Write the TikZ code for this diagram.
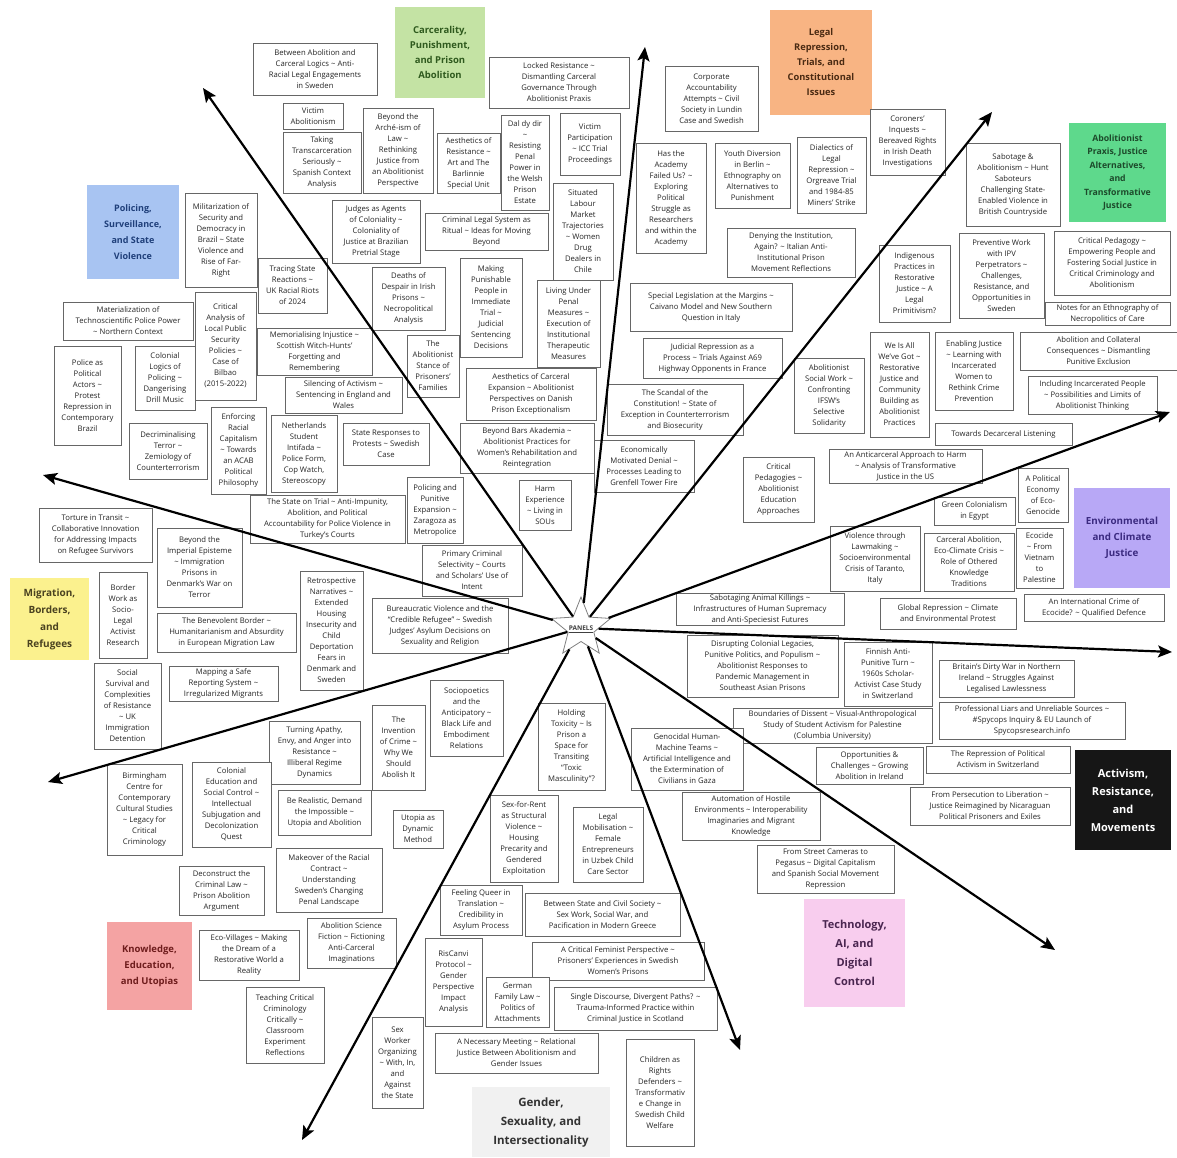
\documentclass[tikz,border=0pt]{standalone}
\usepackage{fontspec}
\setmainfont{Open Sans}
\usetikzlibrary{shapes.geometric,arrows.meta}
\newcommand\tld{\textasciitilde}
\definecolor{cblue}{HTML}{A8C4F2}\definecolor{tblue}{HTML}{1F3F7A}
\definecolor{cgreenl}{HTML}{C4E3A4}\definecolor{tgreenl}{HTML}{2F5A1E}
\definecolor{corange}{HTML}{F8B483}\definecolor{torange}{HTML}{4A2A12}
\definecolor{cgreen}{HTML}{5ED98C}\definecolor{tgreen}{HTML}{1D4A2B}
\definecolor{cpurple}{HTML}{B8A8F6}\definecolor{tpurple}{HTML}{3B2A80}
\definecolor{cyellow}{HTML}{FBF18E}\definecolor{tyellow}{HTML}{4A4220}
\definecolor{cblack}{HTML}{161616}
\definecolor{cpink}{HTML}{F8CDEE}\definecolor{tpink}{HTML}{4A2650}
\definecolor{cred}{HTML}{F4A3A3}\definecolor{tred}{HTML}{6E1C1C}
\definecolor{cgray}{HTML}{F1F1F1}\definecolor{tgray}{HTML}{333333}
\tikzset{
  pbox/.style={draw=black!60, line width=0.7pt, fill=white, text=black!85, align=center,
    inner sep=1pt, font=\fontsize{7.7}{11}\selectfont},
  cat/.style={align=center, inner sep=2pt},
  arr/.style={line width=2.2pt, -{Stealth[length=14pt,width=12pt,inset=3pt]}},
}
\newcommand\bx[6]{\node[pbox,minimum width={(#4-#2)*1pt},minimum height={(#5-#3)*1pt}] (#1) at ({(#2+#4)/2},{(#3+#5)/2}) {#6};}
\newcommand\lab[7]{\node[cat,minimum width={(#4-#2)*1pt},minimum height={(#5-#3)*1pt},#6] (#1) at ({(#2+#4)/2},{(#3+#5)/2}) {#7};}
\begin{document}
\begin{tikzpicture}[x=1pt,y=-1pt]
\useasboundingbox[fill=white] (0,0) rectangle (1177,1157);
% category labels
\lab{Lpol}{87}{185}{179}{279}{fill=cblue,text=tblue,font=\bfseries\fontsize{9}{16}\selectfont}{Policing,\\Surveillance,\\and State\\Violence}
\lab{Lcarc}{395}{7}{485}{98}{fill=cgreenl,text=tgreenl,font=\bfseries\fontsize{9.5}{15}\selectfont}{Carcerality,\\Punishment,\\and Prison\\Abolition}
\lab{Llegal}{770}{10}{872}{115}{fill=corange,text=torange,font=\bfseries\fontsize{9.3}{15}\selectfont}{Legal\\Repression,\\Trials, and\\Constitutional\\Issues}
\lab{Lprax}{1069}{123}{1166}{222}{fill=cgreen,text=tgreen,font=\bfseries\fontsize{8.7}{13.5}\selectfont}{Abolitionist\\Praxis, Justice\\Alternatives,\\and\\Transformative\\Justice}
\lab{Lenv}{1074}{488}{1170}{588}{fill=cpurple,text=tpurple,font=\bfseries\fontsize{9.8}{16}\selectfont}{Environmental\\and Climate\\Justice}
\lab{Lmig}{10}{578}{89}{660}{fill=cyellow,text=tyellow,font=\bfseries\fontsize{10}{17}\selectfont}{Migration,\\Borders,\\and\\Refugees}
\lab{Lact}{1075}{750}{1171}{850}{fill=cblack,text=white,font=\bfseries\fontsize{11}{18}\selectfont}{Activism,\\Resistance,\\and\\Movements}
\lab{Ltech}{804}{899}{905}{1007}{fill=cpink,text=tpink,font=\bfseries\fontsize{11}{19}\selectfont}{Technology,\\AI, and\\Digital\\Control}
\lab{Lknow}{107}{922}{192}{1010}{fill=cred,text=tred,font=\bfseries\fontsize{9.5}{16}\selectfont}{Knowledge,\\Education,\\and Utopias}
\lab{Lgen}{472}{1087}{610}{1157}{fill=cgray,text=tgray,font=\bfseries\fontsize{11.5}{19}\selectfont}{Gender,\\Sexuality, and\\Intersectionality}
% panel boxes
\bx{ba1}{253}{43}{377}{95}{Between Abolition and\\Carceral Logics \tld{} Anti-\\Racial Legal Engagements\\in Sweden}
\bx{victimab}{283}{103}{343}{129}{Victim\\Abolitionism}
\bx{taking}{283}{132}{361}{193}{Taking\\Transcarceration\\Seriously \tld{}\\Spanish Context\\Analysis}
\bx{arche}{363}{108}{433}{193}{Beyond the\\Arché-ism of\\Law \tld{}\\Rethinking\\Justice from\\an Abolitionist\\Perspective}
\bx{aesres}{437}{133}{500}{193}{Aesthetics of\\Resistance \tld{}\\Art and The\\Barlinnie\\Special Unit}
\bx{daldy}{501}{115}{549}{210}{Dal dy dir\\\tld{}\\Resisting\\Penal\\Power in\\the Welsh\\Prison\\Estate}
\bx{locked}{489}{57}{629}{108}{Locked Resistance \tld{}\\Dismantling Carceral\\Governance Through\\Abolitionist Praxis}
\bx{victimpart}{560}{113}{620}{175}{Victim\\Participation\\\tld{} ICC Trial\\Proceedings}
\bx{corporate}{665}{66}{758}{131}{Corporate\\Accountability\\Attempts \tld{} Civil\\Society in Lundin\\Case and Swedish}
\bx{academy}{636}{143}{706}{253}{Has the\\Academy\\Failed Us? \tld{}\\Exploring\\Political\\Struggle as\\Researchers\\and within the\\Academy}
\bx{youth}{715}{143}{790}{208}{Youth Diversion\\in Berlin \tld{}\\Ethnography on\\Alternatives to\\Punishment}
\bx{dialectics}{797}{137}{866}{213}{Dialectics of\\Legal\\Repression \tld{}\\Orgreave Trial\\and 1984-85\\Miners' Strike}
\bx{coroners}{870}{109}{945}{175}{Coroners'\\Inquests \tld{}\\Bereaved Rights\\in Irish Death\\Investigations}
\bx{sabotage}{966}{143}{1060}{226}{Sabotage \&\\Abolitionism \tld{} Hunt\\Saboteurs\\Challenging State-\\Enabled Violence in\\British Countryside}
\bx{militar}{185}{193}{257}{287}{Militarization of\\Security and\\Democracy in\\Brazil \tld{} State\\Violence and\\Rise of Far-\\Right}
\bx{judges}{332}{200}{420}{263}{Judges as Agents\\of Coloniality \tld{}\\Coloniality of\\Justice at Brazilian\\Pretrial Stage}
\bx{crimlegal}{425}{213}{548}{250}{Criminal Legal System as\\Ritual \tld{} Ideas for Moving\\Beyond}
\bx{situated}{553}{183}{613}{280}{Situated\\Labour\\Market\\Trajectories\\\tld{} Women\\Drug\\Dealers in\\Chile}
\bx{denying}{727}{228}{855}{277}{Denying the Institution,\\Again? \tld{} Italian Anti-\\Institutional Prison\\Movement Reflections}
\bx{indigenous}{879}{245}{950}{322}{Indigenous\\Practices in\\Restorative\\Justice \tld{} A\\Legal\\Primitivism?}
\bx{preventive}{959}{233}{1044}{318}{Preventive Work\\with IPV\\Perpetrators \tld{}\\Challenges,\\Resistance, and\\Opportunities in\\Sweden}
\bx{critped}{1054}{231}{1170}{295}{Critical Pedagogy \tld{}\\Empowering People and\\Fostering Social Justice in\\Critical Criminology and\\Abolitionism}
\bx{tracing}{258}{258}{327}{313}{Tracing State\\Reactions \tld{}\\UK Racial Riots\\of 2024}
\bx{deaths}{372}{267}{445}{330}{Deaths of\\Despair in Irish\\Prisons \tld{}\\Necropolitical\\Analysis}
\bx{making}{460}{258}{522}{357}{Making\\Punishable\\People in\\Immediate\\Trial \tld{}\\Judicial\\Sentencing\\Decisions}
\bx{living}{537}{280}{600}{367}{Living Under\\Penal\\Measures \tld{}\\Execution of\\Institutional\\Therapeutic\\Measures}
\bx{special}{630}{283}{792}{331}{Special Legislation at the Margins \tld{}\\Caivano Model and New Southern\\Question in Italy}
\bx{notes}{1045}{302}{1170}{325}{Notes for an Ethnography of\\Necropolitics of Care}
\bx{material}{63}{302}{193}{340}{Materialization of\\Technoscientific Police Power\\\tld{} Northern Context}
\bx{bilbao}{195}{292}{256}{400}{Critical\\Analysis of\\Local Public\\Security\\Policies \tld{}\\Case of\\Bilbao\\(2015-2022)}
\bx{memorial}{257}{328}{372}{375}{Memorialising Injustice \tld{}\\Scottish Witch-Hunts'\\Forgetting and\\Remembering}
\bx{stance}{407}{335}{459}{397}{The\\Abolitionist\\Stance of\\Prisoners'\\Families}
\bx{judicial}{643}{338}{782}{378}{Judicial Repression as a\\Process \tld{} Trials Against A69\\Highway Opponents in France}
\bx{weisall}{870}{332}{929}{437}{We Is All\\We've Got \tld{}\\Restorative\\Justice and\\Community\\Building as\\Abolitionist\\Practices}
\bx{enabling}{935}{332}{1013}{410}{Enabling Justice\\\tld{} Learning with\\Incarcerated\\Women to\\Rethink Crime\\Prevention}
\bx{collateral}{1020}{332}{1177}{370}{Abolition and Collateral\\Consequences \tld{} Dismantling\\Punitive Exclusion}
\bx{policepol}{54}{346}{121}{445}{Police as\\Political\\Actors \tld{}\\Protest\\Repression in\\Contemporary\\Brazil}
\bx{colonlog}{135}{346}{195}{410}{Colonial\\Logics of\\Policing \tld{}\\Dangerising\\Drill Music}
\bx{silencing}{285}{377}{402}{413}{Silencing of Activism \tld{}\\Sentencing in England and\\Wales}
\bx{aescarc}{466}{368}{596}{420}{Aesthetics of Carceral\\Expansion \tld{} Abolitionist\\Perspectives on Danish\\Prison Exceptionalism}
\bx{socialwork}{794}{358}{864}{433}{Abolitionist\\Social Work \tld{}\\Confronting\\IFSW's\\Selective\\Solidarity}
\bx{including}{1028}{376}{1157}{414}{Including Incarcerated People\\\tld{} Possibilities and Limits of\\Abolitionist Thinking}
\bx{scandal}{607}{384}{743}{435}{The Scandal of the\\Constitution! \tld{} State of\\Exception in Counterterrorism\\and Biosecurity}
\bx{decrim}{129}{423}{207}{479}{Decriminalising\\Terror \tld{}\\Zemiology of\\Counterterrorism}
\bx{enforcing}{211}{407}{266}{494}{Enforcing\\Racial\\Capitalism\\\tld{} Towards\\an ACAB\\Political\\Philosophy}
\bx{netherlands}{271}{415}{337}{492}{Netherlands\\Student\\Intifada \tld{}\\Police Form,\\Cop Watch,\\Stereoscopy}
\bx{stateresp}{343}{423}{429}{465}{State Responses to\\Protests \tld{} Swedish\\Case}
\bx{beyondbars}{460}{423}{594}{473}{Beyond Bars Akademia \tld{}\\Abolitionist Practices for\\Women's Rehabilitation and\\Reintegration}
\bx{towards}{935}{423}{1072}{445}{Towards Decarceral Listening}
\bx{economic}{594}{440}{694}{492}{Economically\\Motivated Denial \tld{}\\Processes Leading to\\Grenfell Tower Fire}
\bx{anticarc}{829}{449}{982}{483}{An Anticarceral Approach to Harm\\\tld{} Analysis of Transformative\\Justice in the US}
\bx{critpeds}{743}{457}{814}{522}{Critical\\Pedagogies \tld{}\\Abolitionist\\Education\\Approaches}
\bx{harm}{519}{480}{571}{530}{Harm\\Experience\\\tld{} Living in\\SOUs}
\bx{polecon}{1018}{468}{1068}{522}{A Political\\Economy\\of Eco-\\Genocide}
\bx{green}{934}{497}{1015}{525}{Green Colonialism\\in Egypt}
\bx{stateontrial}{250}{495}{405}{543}{The State on Trial \tld{} Anti-Impunity,\\Abolition, and Political\\Accountability for Police Violence in\\Turkey's Courts}
\bx{polpun}{407}{477}{463}{543}{Policing and\\Punitive\\Expansion \tld{}\\Zaragoza as\\Metropolice}
\bx{torture}{39}{508}{152}{562}{Torture in Transit \tld{}\\Collaborative Innovation\\for Addressing Impacts\\on Refugee Survivors}
\bx{imperial}{157}{528}{242}{607}{Beyond the\\Imperial Episteme\\\tld{} Immigration\\Prisons in\\Denmark's War on\\Terror}
\bx{primary}{422}{545}{522}{596}{Primary Criminal\\Selectivity \tld{} Courts\\and Scholars' Use of\\Intent}
\bx{violence}{830}{526}{920}{591}{Violence through\\Lawmaking \tld{}\\Socioenvironmental\\Crisis of Taranto,\\Italy}
\bx{carcabol}{924}{533}{1014}{591}{Carceral Abolition,\\Eco-Climate Crisis \tld{}\\Role of Othered\\Knowledge\\Traditions}
\bx{ecocide}{1016}{528}{1063}{588}{Ecocide\\\tld{} From\\Vietnam\\to\\Palestine}
\bx{border}{99}{572}{147}{658}{Border\\Work as\\Socio-\\Legal\\Activist\\Research}
\bx{retro}{300}{571}{363}{690}{Retrospective\\Narratives \tld{}\\Extended\\Housing\\Insecurity and\\Child\\Deportation\\Fears in\\Denmark and\\Sweden}
\bx{benevolent}{157}{613}{296}{652}{The Benevolent Border \tld{}\\Humanitarianism and Absurdity\\in European Migration Law}
\bx{bureau}{372}{598}{508}{653}{Bureaucratic Violence and the\\“Credible Refugee” \tld{} Swedish\\Judges' Asylum Decisions on\\Sexuality and Religion}
\bx{sabanimal}{676}{593}{844}{625}{Sabotaging Animal Killings \tld{}\\Infrastructures of Human Supremacy\\and Anti-Speciesist Futures}
\bx{globalrep}{880}{598}{1016}{629}{Global Repression \tld{} Climate\\and Environmental Protest}
\bx{intlcrime}{1024}{594}{1164}{621}{An International Crime of\\Ecocide? \tld{} Qualified Defence}
\bx{disrupting}{687}{635}{838}{697}{Disrupting Colonial Legacies,\\Punitive Politics, and Populism \tld{}\\Abolitionist Responses to\\Pandemic Management in\\Southeast Asian Prisons}
\bx{finnish}{844}{642}{932}{706}{Finnish Anti-\\Punitive Turn \tld{}\\1960s Scholar-\\Activist Case Study\\in Switzerland}
\bx{britain}{939}{660}{1074}{697}{Britain's Dirty War in Northern\\Ireland \tld{} Struggles Against\\Legalised Lawlessness}
\bx{social}{94}{663}{161}{749}{Social\\Survival and\\Complexities\\of Resistance\\\tld{} UK\\Immigration\\Detention}
\bx{mapping}{169}{666}{278}{701}{Mapping a Safe\\Reporting System \tld{}\\Irregularized Migrants}
\bx{sociopo}{430}{680}{503}{756}{Sociopoetics\\and the\\Anticipatory \tld{}\\Black Life and\\Embodiment\\Relations}
\bx{holding}{538}{703}{605}{790}{Holding\\Toxicity \tld{} Is\\Prison a\\Space for\\Transiting\\“Toxic\\Masculinity”?}
\bx{boundaries}{733}{708}{932}{743}{Boundaries of Dissent \tld{} Visual-Anthropological\\Study of Student Activism for Palestine\\(Columbia University)}
\bx{professional}{939}{702}{1125}{739}{Professional Liars and Unreliable Sources \tld{}\\\#Spycops Inquiry \& EU Launch of\\Spycopsresearch.info}
\bx{invention}{372}{705}{425}{790}{The\\Invention\\of Crime \tld{}\\Why We\\Should\\Abolish It}
\bx{turning}{269}{721}{360}{784}{Turning Apathy,\\Envy, and Anger into\\Resistance \tld{}\\Illiberal Regime\\Dynamics}
\bx{genocidal}{631}{728}{743}{790}{Genocidal Human-\\Machine Teams \tld{}\\Artificial Intelligence and\\the Extermination of\\Civilians in Gaza}
\bx{opportun}{816}{747}{923}{784}{Opportunities \&\\Challenges \tld{} Growing\\Abolition in Ireland}
\bx{represswiss}{926}{746}{1070}{773}{The Repression of Political\\Activism in Switzerland}
\bx{birmingham}{107}{764}{182}{855}{Birmingham\\Centre for\\Contemporary\\Cultural Studies\\\tld{} Legacy for\\Critical\\Criminology}
\bx{coloned}{192}{762}{271}{847}{Colonial\\Education and\\Social Control \tld{}\\Intellectual\\Subjugation and\\Decolonization\\Quest}
\bx{realistic}{278}{790}{371}{835}{Be Realistic, Demand\\the Impossible \tld{}\\Utopia and Abolition}
\bx{utopia}{393}{810}{443}{848}{Utopia as\\Dynamic\\Method}
\bx{sexrent}{490}{795}{558}{882}{Sex-for-Rent\\as Structural\\Violence \tld{}\\Housing\\Precarity and\\Gendered\\Exploitation}
\bx{legalmob}{573}{807}{643}{882}{Legal\\Mobilisation \tld{}\\Female\\Entrepreneurs\\in Uzbek Child\\Care Sector}
\bx{automation}{682}{792}{820}{840}{Automation of Hostile\\Environments \tld{} Interoperability\\Imaginaries and Migrant\\Knowledge}
\bx{persecution}{910}{787}{1070}{825}{From Persecution to Liberation \tld{}\\Justice Reimagined by Nicaraguan\\Political Prisoners and Exiles}
\bx{street}{757}{845}{894}{893}{From Street Cameras to\\Pegasus \tld{} Digital Capitalism\\and Spanish Social Movement\\Repression}
\bx{makeover}{276}{848}{382}{912}{Makeover of the Racial\\Contract \tld{}\\Understanding\\Sweden's Changing\\Penal Landscape}
\bx{deconstruct}{179}{866}{264}{915}{Deconstruct the\\Criminal Law \tld{}\\Prison Abolition\\Argument}
\bx{queer}{440}{885}{522}{935}{Feeling Queer in\\Translation \tld{}\\Credibility in\\Asylum Process}
\bx{civil}{525}{893}{680}{936}{Between State and Civil Society \tld{}\\Sex Work, Social War, and\\Pacification in Modern Greece}
\bx{ecovill}{199}{930}{299}{980}{Eco-Villages \tld{} Making\\the Dream of a\\Restorative World a\\Reality}
\bx{scifi}{307}{918}{396}{968}{Abolition Science\\Fiction \tld{} Fictioning\\Anti-Carceral\\Imaginations}
\bx{riscanvi}{425}{938}{482}{1026}{RisCanvi\\Protocol \tld{}\\Gender\\Perspective\\Impact\\Analysis}
\bx{feminist}{532}{942}{704}{980}{A Critical Feminist Perspective \tld{}\\Prisoners' Experiences in Swedish\\Women's Prisons}
\bx{german}{486}{977}{549}{1027}{German\\Family Law \tld{}\\Politics of\\Attachments}
\bx{single}{554}{987}{717}{1030}{Single Discourse, Divergent Paths? \tld{}\\Trauma-Informed Practice within\\Criminal Justice in Scotland}
\bx{teaching}{246}{987}{324}{1063}{Teaching Critical\\Criminology\\Critically \tld{}\\Classroom\\Experiment\\Reflections}
\bx{sexworker}{372}{1017}{423}{1108}{Sex\\Worker\\Organizing\\\tld{} With, In,\\and\\Against\\the State}
\bx{necessary}{435}{1033}{598}{1073}{A Necessary Meeting \tld{} Relational\\Justice Between Abolitionism and\\Gender Issues}
\bx{children}{626}{1039}{694}{1146}{Children as\\Rights\\Defenders \tld{}\\Transformativ\\e Change in\\Swedish Child\\Welfare}
% hub and arrows
\node[star, star points=5, star point ratio=2.3, minimum size=62pt, draw=black!50, line width=0.8pt, fill=white, inner sep=0pt] (panels) at (581,628) {};
\node[font=\bfseries\fontsize{6.5}{7}\selectfont, text=black!75, inner sep=0pt] (panelstxt) at (581,629) {\underline{PANELS}};
\coordinate (e1) at (203,88);
\coordinate (e2) at (645,47);
\coordinate (e3) at (992,112);
\coordinate (e4) at (1170,412);
\coordinate (e5) at (1172,652);
\coordinate (e6) at (1055,950);
\coordinate (e7) at (740,1050);
\coordinate (e8) at (302,1140);
\coordinate (e9) at (48,782);
\coordinate (e10) at (43,475);
\foreach \e in {e1,e2,e3,e4,e5,e6,e7,e8,e9,e10}{\draw[arr] (panels) -- (\e);}
\end{tikzpicture}
\end{document}
